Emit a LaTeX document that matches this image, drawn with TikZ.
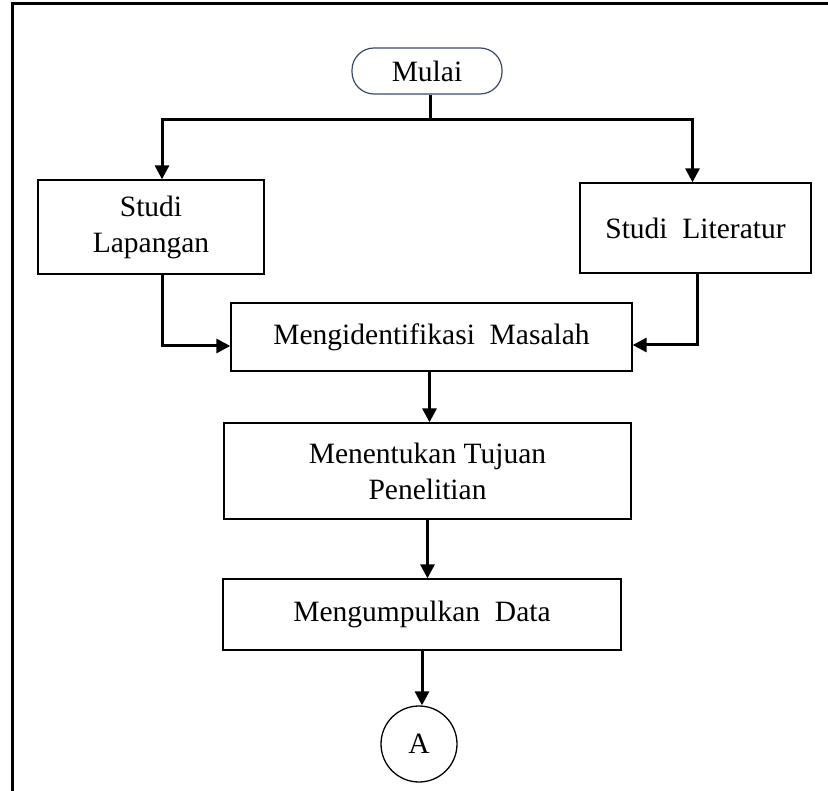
\documentclass[tikz,border=0pt]{standalone}
\usepackage{fontspec}
\setmainfont{Liberation Serif}
\usetikzlibrary{arrows.meta,positioning}
\definecolor{termline}{HTML}{3B4A6B}

\begin{document}
\begin{tikzpicture}[x=1pt,y=-1pt,
	every node/.style={font=\fontsize{29.5}{36}\selectfont,align=center},
	process/.style={draw,line width=1.3pt,inner sep=0pt},
	flow/.style={line width=3pt},
	arr/.style={flow,-{Triangle[length=14pt,width=14pt]}}
	]
	\useasboundingbox (0,0) rectangle (828,791);
	% frame (top and left edge only)
	\draw[line width=3pt] (12,800) -- (12,4) -- (840,4);
	% nodes
	\node[draw=termline,line width=1.2pt,rounded corners=22pt,minimum width=150pt,minimum height=46pt] (mulai) at (427,71) {Mulai};
	\node[process,minimum width=226pt,minimum height=94pt] (lapangan) at (151,227) {Studi\\Lapangan};
	\node[process,minimum width=231pt,minimum height=90pt] (literatur) at (695.5,228) {Studi\ \ Literatur};
	\node[process,minimum width=401pt,minimum height=68pt] (masalah) at (431.5,337) {Mengidentifikasi\ \ Masalah};
	\node[process,minimum width=407pt,minimum height=96pt] (tujuan) at (427.5,471) {Menentukan Tujuan\\Penelitian};
	\node[process,minimum width=398pt,minimum height=71pt] (data) at (422,614.5) {Mengumpulkan\ \ Data};
	\node[draw,circle,line width=1.3pt,minimum size=76pt,inner sep=0pt] (a) at (419,744) {A};
	\coordinate (cabang) at (430,120);
	% connectors
	\draw[flow] ([xshift=3pt]mulai.south) -- (cabang);
	\draw[arr] (cabang) -| ([xshift=11pt]lapangan.north);
	\draw[arr] (cabang) -| ([xshift=-3pt]literatur.north);
	\draw[arr] ([xshift=11pt]lapangan.south) |- ([yshift=-9pt]masalah.west);
	\draw[arr] ([xshift=2pt]literatur.south) |- ([yshift=-8pt]masalah.east);
	\draw[arr] ([xshift=-2pt]masalah.south) -- ([xshift=-2pt,yshift=0pt]masalah.south |- tujuan.north);
	\draw[arr] (tujuan.south) -- (tujuan.south |- data.north);
	\draw[arr] (data.south) -- (data.south |- a.north);
\end{tikzpicture}
\end{document}
